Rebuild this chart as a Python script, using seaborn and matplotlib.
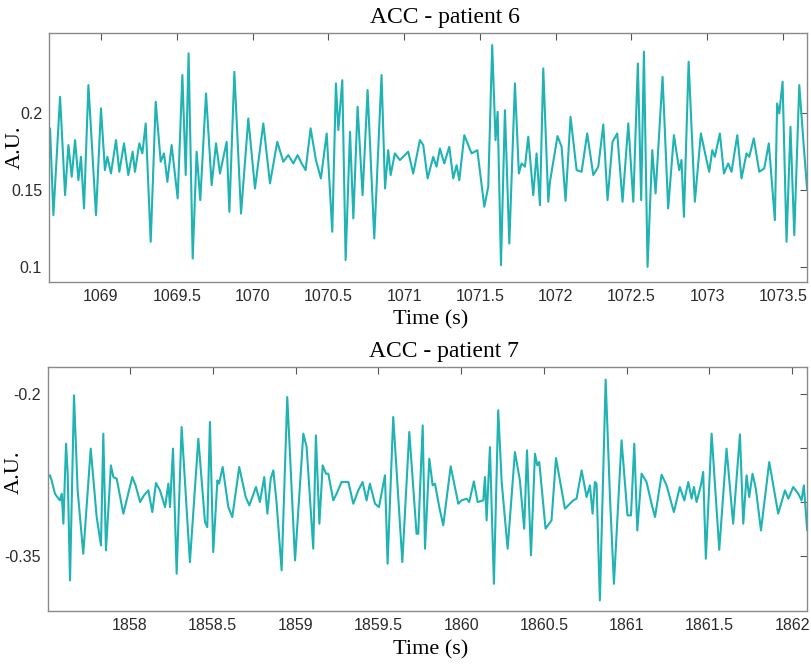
import numpy as np
import pandas as pd
import matplotlib
matplotlib.use("Agg")
import matplotlib.pyplot as plt
import seaborn as sns

# ---------------- data ----------------
t6 = [1068.657, 1068.664, 1068.686, 1068.708, 1068.730, 1068.763, 1068.785, 1068.807, 1068.829, 1068.851,
      1068.868, 1068.888, 1068.917, 1068.967, 1069.000, 1069.026, 1069.042, 1069.066, 1069.099, 1069.121,
      1069.152, 1069.180, 1069.209, 1069.224, 1069.253, 1069.273, 1069.295, 1069.328, 1069.361, 1069.394,
      1069.416, 1069.438, 1069.466, 1069.506, 1069.537, 1069.559, 1069.578, 1069.605, 1069.631, 1069.655,
      1069.693, 1069.730, 1069.759, 1069.785, 1069.829, 1069.847, 1069.880, 1069.924, 1069.972, 1070.016,
      1070.071, 1070.115, 1070.163, 1070.203, 1070.236, 1070.269, 1070.297, 1070.324, 1070.350, 1070.383,
      1070.418, 1070.451, 1070.489, 1070.526, 1070.550, 1070.566, 1070.592, 1070.614, 1070.643, 1070.665,
      1070.693, 1070.726, 1070.759, 1070.803, 1070.851, 1070.874, 1070.895, 1070.911, 1070.939, 1070.972,
      1071.027, 1071.060, 1071.104, 1071.126, 1071.155, 1071.192, 1071.214, 1071.236, 1071.265, 1071.298,
      1071.324, 1071.346, 1071.364, 1071.397, 1071.445, 1071.483, 1071.529, 1071.555, 1071.581, 1071.603,
      1071.617, 1071.639, 1071.665, 1071.694, 1071.731, 1071.757, 1071.775, 1071.797, 1071.819, 1071.852,
      1071.874, 1071.896, 1071.918, 1071.951, 1071.962, 1072.012, 1072.039, 1072.065, 1072.098, 1072.138,
      1072.171, 1072.208, 1072.248, 1072.281, 1072.314, 1072.342, 1072.375, 1072.406, 1072.441, 1072.479,
      1072.512, 1072.542, 1072.564, 1072.582, 1072.606, 1072.637, 1072.659, 1072.705, 1072.742, 1072.780,
      1072.815, 1072.830, 1072.846, 1072.877, 1072.918, 1072.958, 1072.995, 1073.013, 1073.033, 1073.050,
      1073.083, 1073.110, 1073.138, 1073.160, 1073.198, 1073.226, 1073.259, 1073.277, 1073.307, 1073.343,
      1073.376, 1073.406, 1073.446, 1073.461, 1073.475, 1073.497, 1073.523, 1073.549, 1073.574, 1073.607,
      1073.637, 1073.659]
acc6 = [0.1694, 0.1899, 0.1338, 0.1715, 0.2103, 0.1467, 0.1791, 0.1586, 0.1823, 0.1564,
        0.1715, 0.1381, 0.2179, 0.1338, 0.2028, 0.1629, 0.1715, 0.1607, 0.1823, 0.1618,
        0.1802, 0.1597, 0.1748, 0.1618, 0.1802, 0.1737, 0.1931, 0.1165, 0.2071, 0.1683,
        0.1737, 0.1553, 0.1791, 0.1446, 0.2244, 0.1597, 0.2384, 0.1057, 0.1748, 0.1435,
        0.2125, 0.1532, 0.1802, 0.1607, 0.1812, 0.1359, 0.2265, 0.1348, 0.1963, 0.1510,
        0.1931, 0.1543, 0.1812, 0.1683, 0.1726, 0.1672, 0.1726, 0.1672, 0.1629, 0.1899,
        0.1694, 0.1575, 0.1866, 0.1230, 0.2190, 0.1888, 0.2211, 0.1047, 0.1877, 0.1316,
        0.2039, 0.1467, 0.2147, 0.1187, 0.2244, 0.1510, 0.1758, 0.1597, 0.1737, 0.1694,
        0.1748, 0.1607, 0.1823, 0.1791, 0.1575, 0.1715, 0.1651, 0.1769, 0.1672, 0.1780,
        0.1575, 0.1661, 0.1564, 0.1855, 0.1737, 0.1758, 0.1392, 0.1521, 0.2438, 0.1823,
        0.2006, 0.1014, 0.2017, 0.1154, 0.2190, 0.1607, 0.1672, 0.1651, 0.1845, 0.1467,
        0.1737, 0.1402, 0.2287, 0.1424, 0.1553, 0.1849, 0.1780, 0.1430, 0.1974, 0.1629,
        0.1618, 0.1866, 0.1597, 0.1651, 0.1924, 0.1435, 0.1812, 0.1866, 0.1424, 0.1931,
        0.1424, 0.2319, 0.1435, 0.2395, 0.1003, 0.1758, 0.1478, 0.2233, 0.1381, 0.1855,
        0.1629, 0.1694, 0.1327, 0.2330, 0.1424, 0.1866, 0.1694, 0.1618, 0.1758, 0.1715,
        0.1866, 0.1607, 0.1672, 0.1618, 0.1855, 0.1575, 0.1737, 0.1715, 0.1834, 0.1618,
        0.1640, 0.1802, 0.1305, 0.2060, 0.1996, 0.2201, 0.1165, 0.1909, 0.1208, 0.2179,
        0.1780, 0.1500]

t7 = [1857.507, 1857.517, 1857.527, 1857.547, 1857.561, 1857.577, 1857.588, 1857.598, 1857.614, 1857.624,
      1857.638, 1857.662, 1857.684, 1857.718, 1857.763, 1857.799, 1857.825, 1857.839, 1857.855, 1857.885,
      1857.900, 1857.920, 1857.960, 1858.014, 1858.034, 1858.061, 1858.085, 1858.111, 1858.135, 1858.157,
      1858.181, 1858.212, 1858.232, 1858.242, 1858.260, 1858.282, 1858.312, 1858.362, 1858.413, 1858.453,
      1858.467, 1858.483, 1858.503, 1858.528, 1858.538, 1858.560, 1858.594, 1858.618, 1858.660, 1858.699,
      1858.721, 1858.761, 1858.785, 1858.811, 1858.830, 1858.850, 1858.866, 1858.886, 1858.916, 1858.950,
      1858.997, 1859.047, 1859.067, 1859.107, 1859.123, 1859.144, 1859.164, 1859.184, 1859.198, 1859.228,
      1859.248, 1859.278, 1859.319, 1859.349, 1859.379, 1859.405, 1859.429, 1859.449, 1859.480, 1859.504,
      1859.540, 1859.556, 1859.590, 1859.645, 1859.687, 1859.731, 1859.741, 1859.768, 1859.782, 1859.808,
      1859.828, 1859.842, 1859.868, 1859.892, 1859.937, 1859.983, 1860.003, 1860.033, 1860.049, 1860.077,
      1860.100, 1860.134, 1860.144, 1860.154, 1860.174, 1860.198, 1860.224, 1860.245, 1860.281, 1860.325,
      1860.355, 1860.381, 1860.398, 1860.422, 1860.446, 1860.460, 1860.472, 1860.510, 1860.546, 1860.573,
      1860.627, 1860.677, 1860.697, 1860.728, 1860.758, 1860.778, 1860.794, 1860.808, 1860.818, 1860.838,
      1860.873, 1860.899, 1860.923, 1860.969, 1861.005, 1861.026, 1861.046, 1861.064, 1861.090, 1861.120,
      1861.150, 1861.171, 1861.211, 1861.241, 1861.285, 1861.321, 1861.348, 1861.372, 1861.392, 1861.406,
      1861.422, 1861.448, 1861.462, 1861.478, 1861.513, 1861.559, 1861.603, 1861.643, 1861.684, 1861.704,
      1861.724, 1861.740, 1861.760, 1861.780, 1861.811, 1861.861, 1861.915, 1861.956, 1861.976, 1862.006,
      1862.036, 1862.056, 1862.070, 1862.090]
acc7 = [-0.2766, -0.2750, -0.2797, -0.2920, -0.2951, -0.2982, -0.2920, -0.3198, -0.2457, -0.2735,
        -0.3723, -0.2009, -0.2889, -0.3476, -0.2503, -0.3136, -0.3399, -0.2364, -0.3445, -0.2658,
        -0.2766, -0.2781, -0.3105, -0.2766, -0.2843, -0.2997, -0.2935, -0.2889, -0.3090, -0.2821,
        -0.2889, -0.3044, -0.2827, -0.3044, -0.2503, -0.3661, -0.2303, -0.3553, -0.2411, -0.3182,
        -0.3229, -0.2256, -0.3460, -0.2797, -0.2827, -0.2673, -0.3044, -0.3136, -0.2673, -0.2951,
        -0.3028, -0.2858, -0.2997, -0.2766, -0.3105, -0.2781, -0.2704, -0.3013, -0.3630, -0.2025,
        -0.3537, -0.2364, -0.2488, -0.3429, -0.2380, -0.3198, -0.2658, -0.2735, -0.2735, -0.2982,
        -0.2920, -0.2812, -0.2812, -0.3013, -0.2889, -0.2812, -0.2982, -0.2827, -0.3013, -0.3044,
        -0.2750, -0.3568, -0.2210, -0.3553, -0.2349, -0.3291, -0.3291, -0.2287, -0.3429, -0.2596,
        -0.2843, -0.2827, -0.3044, -0.3213, -0.2667, -0.3013, -0.2982, -0.2966, -0.2997, -0.2806,
        -0.2997, -0.2982, -0.2766, -0.3167, -0.2488, -0.3754, -0.2148, -0.2812, -0.3429, -0.2534,
        -0.2797, -0.3244, -0.2519, -0.3491, -0.2550, -0.2658, -0.2627, -0.3244, -0.3167, -0.2590,
        -0.3059, -0.2982, -0.2966, -0.2704, -0.2951, -0.2843, -0.3105, -0.2812, -0.2827, -0.3908,
        -0.1864, -0.2951, -0.3754, -0.2426, -0.3121, -0.3121, -0.2457, -0.3260, -0.2735, -0.2812,
        -0.3013, -0.3136, -0.2744, -0.2843, -0.3090, -0.2858, -0.2982, -0.2812, -0.2966, -0.2858,
        -0.2997, -0.2843, -0.2719, -0.3522, -0.2364, -0.3439, -0.2503, -0.3198, -0.2371, -0.3198,
        -0.2750, -0.2951, -0.2735, -0.2874, -0.3260, -0.2627, -0.3105, -0.2889, -0.2966, -0.2858,
        -0.2920, -0.2982, -0.2843, -0.3260]

titles = ["ACC - patient 6", "ACC - patient 7"]
x_ticks6 = [1069, 1069.5, 1070, 1070.5, 1071, 1071.5, 1072, 1072.5, 1073, 1073.5]
x_ticks7 = [1858, 1858.5, 1859, 1859.5, 1860, 1860.5, 1861, 1861.5, 1862]
y_ticks6 = [0.1, 0.15, 0.2]
y_ticklabels6 = ["0.1", "0.15", "0.2"]
y_ticks7 = [-0.35, -0.3, -0.25, -0.2]
y_ticklabels7 = ["-0.35", "", "", "-0.2"]

# ---------------- style ----------------
sns.set_theme(style="white")
plt.rcParams["font.family"] = ["Liberation Sans", "DejaVu Sans"]

LINE = "#1fb3b3"
FRAME = "#8a8a8a"
TICKTXT = "#2b2b2b"
SERIF = ["Liberation Serif", "DejaVu Serif"]

W, H = 811, 668
fig = plt.figure(figsize=(W / 100, H / 100), dpi=100)
fig.patch.set_facecolor("white")

def px_axes(left, top, right, bottom):
    return fig.add_axes([left / W, 1 - bottom / H, (right - left) / W, (bottom - top) / H])

ax1 = px_axes(49, 33, 807, 282)
ax2 = px_axes(48, 367, 807, 611)

df6 = pd.DataFrame({"Time (s)": t6, "A.U.": acc6})
df7 = pd.DataFrame({"Time (s)": t7, "A.U.": acc7})

for ax, df in [(ax1, df6), (ax2, df7)]:
    sns.lineplot(data=df, x="Time (s)", y="A.U.", ax=ax, color=LINE, linewidth=1.5,
                 estimator=None, sort=False, solid_joinstyle="round", solid_capstyle="round")

def fmt(v):
    return f"{v:g}"

for ax, xt, yt, ytl, xl, yl, title in [
    (ax1, x_ticks6, y_ticks6, y_ticklabels6, (1068.657, 1073.658), (0.0905, 0.2516), titles[0]),
    (ax2, x_ticks7, y_ticks7, y_ticklabels7, (1857.505, 1862.089), (-0.4006, -0.1747), titles[1]),
]:
    ax.set_xlim(*xl)
    ax.set_ylim(*yl)
    ax.set_xticks(xt)
    ax.set_xticklabels([fmt(v) for v in xt])
    ax.set_yticks(yt)
    ax.set_yticklabels(ytl)
    ax.tick_params(axis="both", direction="in", length=5, width=0.8, color="#555555",
                   labelsize=11.5, labelcolor=TICKTXT, top=True, right=True, pad=5)
    for sp in ax.spines.values():
        sp.set_visible(True)
        sp.set_color(FRAME)
        sp.set_linewidth(1.0)
    ax.set_facecolor("white")
    ax.grid(False)
    ax.set_xlabel("Time (s)", fontsize=16, family=SERIF, color="black")
    ax.set_ylabel("A.U.", fontsize=16, family=SERIF, color="black")
    ax.set_title(title, fontsize=17, family=SERIF, color="black", x=0.522, pad=7)

# label placement (axes coordinates)
ax1.xaxis.set_label_coords(0.504, -0.115)
ax2.xaxis.set_label_coords(0.504, -0.118)
ax1.yaxis.set_label_coords(-0.032, 0.54)
ax2.yaxis.set_label_coords(-0.032, 0.57)

fig.savefig("out.png", dpi=100, facecolor="white")
